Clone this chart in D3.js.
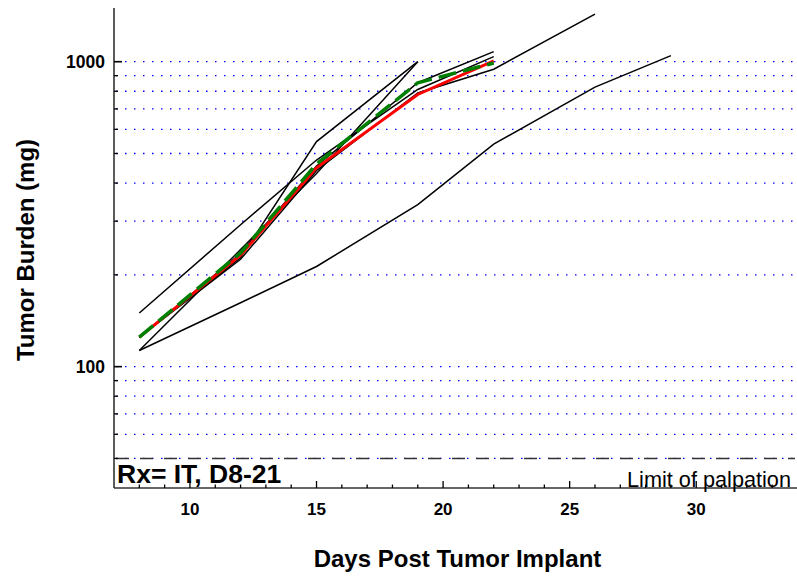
<!DOCTYPE html>
<meta charset="utf-8">
<style>
body { margin: 0; background: #fff; }
text { font-family: "Liberation Sans", Arial, sans-serif; }
</style>
<body>
<svg width="797" height="577"></svg>
<script src="https://d3js.org/d3.v7.min.js"></script>
<script>

// days measured
var days = [8, 12, 15, 19, 22, 26, 29];

// individual animals (mg)
var mouse1 = [113, 162, 213, 340, 537, 825, 1047];
var mouse2 = [113, 242, 430, 1000];
var mouse3 = [125, 228, 547, 1000];
var mouse4 = [150, 292, 476, 811, 1039];
var mouse5 = [125, 235, 455, 853, 1079];
var mouse6 = [125, 225, 440, 790, 945, 1432];

// group mean and fit
var meanLine = [125, 232, 449, 781, 1006];
var fitLine = [125, 236, 462, 853, 990];

var gridValues = [50, 60, 70, 80, 90, 100, 200, 300, 400, 500, 600, 700, 800, 900, 1000];
var yLabels = [100, 1000];
var xLabels = [10, 15, 20, 25, 30];
var xMinor = d3.range(8, 34);
var palpation = 50;

var svg = d3.select("svg");

var x = d3.scaleLinear().domain([7, 34]).range([114, 797.5]);
var y = d3.scaleLog().domain([40, 1500]).range([488, 8]);

// grid
svg.append("g")
  .selectAll("line")
  .data(gridValues)
  .enter().append("line")
  .attr("x1", x(7) + 2)
  .attr("x2", 795)
  .attr("y1", function(d) { return y(d); })
  .attr("y2", function(d) { return y(d); })
  .attr("stroke", "#0000ff")
  .attr("stroke-width", 1.3)
  .attr("stroke-dasharray", "1.5,7.5");

// limit of palpation
svg.append("line")
  .attr("x1", x(7) + 2)
  .attr("x2", 795)
  .attr("y1", y(palpation))
  .attr("y2", y(palpation))
  .attr("stroke", "#333")
  .attr("stroke-width", 1.4)
  .attr("stroke-dasharray", "13,11");

var line = d3.line()
  .x(function(d) { return x(d[0]); })
  .y(function(d) { return y(d[1]); });

function pairs(vals) {
  return vals.map(function(v, i) { return [days[i], v]; });
}

var mice = [mouse1, mouse2, mouse3, mouse4, mouse5, mouse6];

svg.append("g")
  .selectAll("path")
  .data(mice)
  .enter().append("path")
  .attr("d", function(d) { return line(pairs(d)); })
  .attr("fill", "none")
  .attr("stroke", "#000")
  .attr("stroke-width", 1.5);

svg.append("path")
  .attr("d", line(pairs(meanLine)))
  .attr("fill", "none")
  .attr("stroke", "#ff0000")
  .attr("stroke-width", 3);

svg.append("path")
  .attr("d", line(pairs(fitLine)))
  .attr("fill", "none")
  .attr("stroke", "#008000")
  .attr("stroke-width", 3.5)
  .attr("stroke-dasharray", "18,7");

// axes
svg.append("line")
  .attr("x1", x(7)).attr("x2", x(7))
  .attr("y1", y(1500)).attr("y2", y(40))
  .attr("stroke", "#333").attr("stroke-width", 1.6);

svg.append("line")
  .attr("x1", x(7)).attr("x2", 797)
  .attr("y1", y(40)).attr("y2", y(40))
  .attr("stroke", "#333").attr("stroke-width", 1.6);

// y ticks
svg.append("g")
  .selectAll("line")
  .data(gridValues)
  .enter().append("line")
  .attr("x1", x(7))
  .attr("x2", function(d) { return x(7) + (yLabels.indexOf(d) >= 0 ? 8 : 4); })
  .attr("y1", function(d) { return y(d); })
  .attr("y2", function(d) { return y(d); })
  .attr("stroke", "#000")
  .attr("stroke-width", function(d) { return yLabels.indexOf(d) >= 0 ? 1.6 : 1.3; });

svg.append("g")
  .selectAll("text")
  .data(yLabels)
  .enter().append("text")
  .attr("x", 105)
  .attr("y", function(d) { return y(d) + 6; })
  .attr("text-anchor", "end")
  .attr("font-size", "17.5px")
  .attr("font-weight", "bold")
  .text(function(d) { return d; });

// x ticks
svg.append("g")
  .selectAll("line")
  .data(xMinor)
  .enter().append("line")
  .attr("x1", function(d) { return x(d); })
  .attr("x2", function(d) { return x(d); })
  .attr("y1", y(40))
  .attr("y2", function(d) { return y(40) - (d % 5 == 0 ? 7 : 3.5); })
  .attr("stroke", "#000")
  .attr("stroke-width", 1.3);

svg.append("g")
  .selectAll("text")
  .data(xLabels)
  .enter().append("text")
  .attr("x", function(d) { return x(d); })
  .attr("y", 515)
  .attr("text-anchor", "middle")
  .attr("font-size", "17px")
  .attr("font-weight", "bold")
  .text(function(d) { return d; });

// titles
svg.append("text")
  .attr("transform", "translate(34,250) rotate(-90)")
  .attr("text-anchor", "middle")
  .attr("font-size", "24px")
  .attr("font-weight", "bold")
  .text("Tumor Burden (mg)");

svg.append("text")
  .attr("x", 457.5)
  .attr("y", 566.5)
  .attr("text-anchor", "middle")
  .attr("font-size", "24px")
  .attr("font-weight", "bold")
  .text("Days Post Tumor Implant");

svg.append("text")
  .attr("x", 117)
  .attr("y", 482.5)
  .attr("font-size", "26.5px")
  .attr("font-weight", "bold")
  .text("Rx= IT, D8-21");

svg.append("text")
  .attr("x", 791)
  .attr("y", 486.5)
  .attr("text-anchor", "end")
  .attr("font-size", "21.7px")
  .text("Limit of palpation");

</script>
</body>
